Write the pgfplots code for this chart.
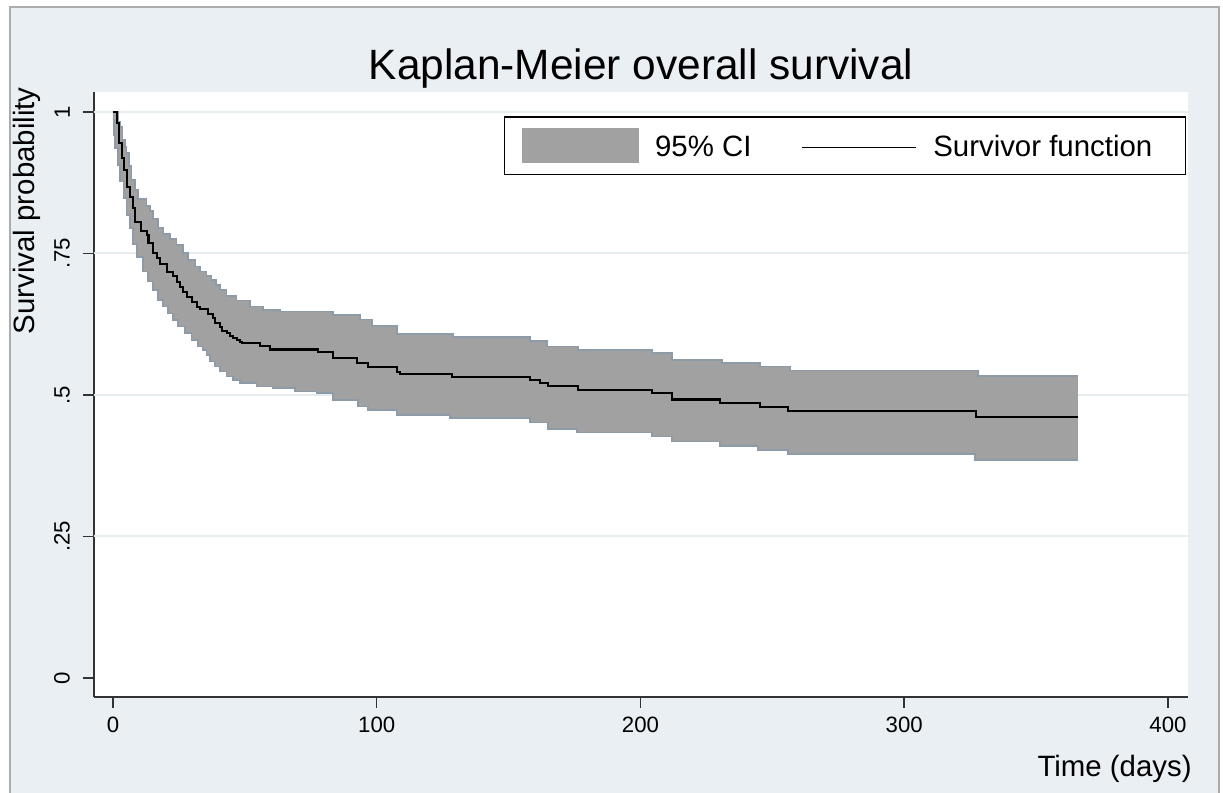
\documentclass[border=0pt]{standalone}
\usepackage{fontspec}
\setmainfont{Liberation Sans}
\usepackage{pgfplots}
\usepackage{pgfplotstable}
\pgfplotsset{compat=1.18}
\definecolor{bgblue}{RGB}{233,239,242}
\definecolor{framegray}{RGB}{172,172,172}
\definecolor{gridc}{RGB}{230,237,240}
\definecolor{cigray}{RGB}{161,161,161}
\definecolor{ciedge}{RGB}{141,155,168}

% Kaplan-Meier survivor function (step values, held until next time)
\pgfplotstableread{
t s
0 1.0
1.40 0.9806
2.39 0.9452
3.30 0.9187
4.17 0.8975
5.19 0.8675
6.45 0.8498
7.47 0.8304
8.34 0.8062
10.62 0.7898
12.89 0.7827
13.46 0.7686
15.28 0.7509
16.68 0.7420
17.82 0.7314
20.36 0.7178
22.86 0.7102
24.27 0.6996
25.40 0.6908
26.65 0.6820
27.94 0.6731
29.84 0.6643
31.74 0.6555
32.99 0.6519
36.13 0.6431
38.03 0.6360
38.67 0.6272
40.57 0.6207
41.21 0.6131
43.11 0.6090
44.36 0.6042
45.61 0.6002
46.90 0.5972
48.15 0.5942
48.80 0.5913
55.73 0.5866
59.53 0.5804
77.84 0.5760
83.41 0.5654
92.51 0.5571
96.68 0.5489
107.68 0.5412
108.82 0.5371
128.53 0.5323
158.10 0.5265
161.90 0.5217
164.93 0.5164
176.30 0.5088
204.36 0.5030
211.94 0.4920
230.14 0.4853
245.31 0.4783
255.92 0.4717
327.20 0.4617
365.88 0.4617
}\survtab

% upper 95% CI
\pgfplotstableread{
t hi
0 1.0
2.09 0.9823
2.65 0.9735
3.68 0.9505
4.55 0.9382
5.19 0.9276
6.18 0.9046
7.09 0.8799
8.34 0.8622
9.59 0.8463
12.78 0.8339
14.03 0.8251
15.28 0.8110
17.18 0.7951
19.07 0.7845
21.61 0.7756
24.15 0.7650
26.65 0.7509
28.55 0.7385
31.09 0.7267
32.99 0.7178
35.53 0.7102
37.42 0.7032
39.05 0.6943
40.57 0.6855
43.11 0.6749
46.90 0.6670
51.94 0.6560
56.99 0.6502
63.32 0.6475
83.41 0.6413
93.65 0.6337
98.20 0.6219
107.68 0.6072
128.91 0.6019
158.10 0.5954
164.55 0.5853
176.30 0.5795
204.36 0.5742
211.94 0.5618
230.90 0.5560
245.31 0.5500
256.68 0.5429
327.96 0.5336
365.88 0.5336
}\hitab

% lower 95% CI
\pgfplotstableread{
t lo
0 0.9859
0.38 0.9594
0.76 0.9364
2.01 0.9064
2.65 0.8769
3.91 0.8475
5.19 0.8180
6.45 0.7945
7.70 0.7668
9.10 0.7438
11.49 0.7178
13.38 0.7002
15.28 0.6855
17.18 0.6678
19.07 0.6560
20.97 0.6443
22.86 0.6325
24.76 0.6207
27.30 0.6090
29.84 0.5972
32.34 0.5853
34.12 0.5795
35.53 0.5707
36.78 0.5588
38.67 0.5500
40.57 0.5412
43.11 0.5323
45.61 0.5265
48.15 0.5207
54.48 0.5147
60.78 0.5118
69.00 0.5058
77.23 0.5030
83.41 0.4912
92.89 0.4793
96.68 0.4735
107.68 0.4647
127.77 0.4588
158.10 0.4511
164.93 0.4394
175.92 0.4334
204.36 0.4263
211.94 0.4175
230.14 0.4099
244.55 0.4028
255.92 0.3958
326.82 0.3852
365.88 0.3852
}\lotab

% CI band outline: upper bound forward, then lower bound backward
\pgfplotstableread{
t v
0 1.0
2.09 0.9823
2.65 0.9735
3.68 0.9505
4.55 0.9382
5.19 0.9276
6.18 0.9046
7.09 0.8799
8.34 0.8622
9.59 0.8463
12.78 0.8339
14.03 0.8251
15.28 0.8110
17.18 0.7951
19.07 0.7845
21.61 0.7756
24.15 0.7650
26.65 0.7509
28.55 0.7385
31.09 0.7267
32.99 0.7178
35.53 0.7102
37.42 0.7032
39.05 0.6943
40.57 0.6855
43.11 0.6749
46.90 0.6670
51.94 0.6560
56.99 0.6502
63.32 0.6475
83.41 0.6413
93.65 0.6337
98.20 0.6219
107.68 0.6072
128.91 0.6019
158.10 0.5954
164.55 0.5853
176.30 0.5795
204.36 0.5742
211.94 0.5618
230.90 0.5560
245.31 0.5500
256.68 0.5429
327.96 0.5336
365.88 0.5336
365.88 0.3852
326.82 0.3958
255.92 0.4028
244.55 0.4099
230.14 0.4175
211.94 0.4263
204.36 0.4334
175.92 0.4394
164.93 0.4511
158.10 0.4588
127.77 0.4647
107.68 0.4735
96.68 0.4793
92.89 0.4912
83.41 0.5030
77.23 0.5058
69.00 0.5118
60.78 0.5147
54.48 0.5207
48.15 0.5265
45.61 0.5323
43.11 0.5412
40.57 0.5500
38.67 0.5588
36.78 0.5707
35.53 0.5795
34.12 0.5853
32.34 0.5972
29.84 0.6090
27.30 0.6207
24.76 0.6325
22.86 0.6443
20.97 0.6560
19.07 0.6678
17.18 0.6855
15.28 0.7002
13.38 0.7178
11.49 0.7438
9.10 0.7668
7.70 0.7945
6.45 0.8180
5.19 0.8475
3.91 0.8769
2.65 0.9064
2.01 0.9364
0.76 0.9594
0.38 0.9859
0 0.9859
}\bandtab

\begin{document}
\begin{tikzpicture}
\fill[white] (0,0) rectangle (611.5pt,396.5pt);
\draw[line width=1pt, draw=framegray, fill=bgblue] (5pt,-5pt) rectangle (609.5pt,393pt);
\node[font=\fontsize{21.2}{25}\selectfont, anchor=base, inner sep=0pt] at (320.5pt,356.5pt) {Kaplan-Meier overall survival};
\node[font=\fontsize{14.7}{17}\selectfont, anchor=base east, inner sep=0pt] at (596pt,8pt) {Time (days)};
\node[font=\fontsize{14.7}{17}\selectfont, rotate=90, anchor=base east, inner sep=0pt] at (17pt,353pt) {Survival probability};
\begin{axis}[
  at={(47pt,48pt)}, anchor=south west,
  scale only axis, width=547pt, height=302.5pt,
  xmin=-7.2, xmax=407.6, ymin=-0.0336, ymax=1.0353,
  axis x line*=bottom, axis y line*=left,
  axis line style={line width=0.75pt, draw=black!80, -},
  axis background/.style={fill=white},
  xtick={0,100,200,300,400},
  ytick={0,0.25,0.5,0.75,1}, yticklabels={0,.25,.5,.75,1},
  tick style={line width=0.75pt, draw=black!80},
  major tick length=5.5pt, tick align=outside,
  minor tick num=0,
  ticklabel style={font=\fontsize{11.1}{13}\selectfont},
  /pgf/number format/assume math mode=true,
  yticklabel style={rotate=90, anchor=south},
  yticklabel shift=3pt, xticklabel shift=1pt,
  extra y ticks={0.25,0.5,0.75,1}, extra y tick labels={},
  extra y tick style={grid=major, major tick length=0pt},
  major grid style={draw=gridc, line width=1pt},
  legend columns=2,
  legend style={at={(rel axis cs:0.9982,0.9603)}, anchor=north east,
    draw=black, line width=0.75pt, fill=white,
    font=\fontsize{14.7}{17}\selectfont,
    inner xsep=8.5pt, inner ysep=5.5pt,
    nodes={inner xsep=8pt, inner ysep=0pt},
    /tikz/every even column/.append style={column sep=17pt}},
]
\addlegendimage{legend image code/.code={\fill[cigray] (0pt,-7.5pt) rectangle (58pt,9.5pt);}}
\addlegendentry{95\% CI}
\addlegendimage{legend image code/.code={\draw[black, line width=0.9pt] (0pt,0pt) -- (57pt,0pt);}}
\addlegendentry{Survivor function}

\addplot[const plot, fill=cigray, draw=none, forget plot] table[x=t, y=v] {\bandtab};
\addplot[const plot, draw=ciedge, line width=0.8pt, forget plot] table[x=t, y=hi] {\hitab};
\addplot[const plot, draw=ciedge, line width=0.8pt, forget plot] table[x=t, y=lo] {\lotab};
\addplot[const plot, draw=black, line width=1.15pt, forget plot] table[x=t, y=s] {\survtab};
\end{axis}
\pgfresetboundingbox
\useasboundingbox (0,0) rectangle (611.5pt,396.5pt);
\end{tikzpicture}
\end{document}
